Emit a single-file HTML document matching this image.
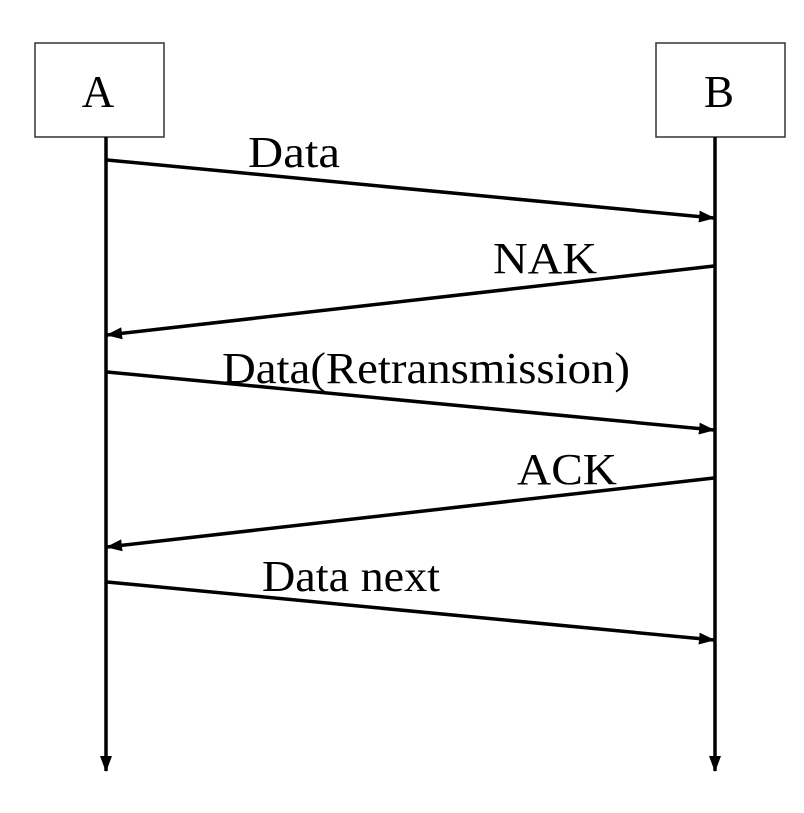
<!DOCTYPE html>
<html><head><style>html,body{margin:0;padding:0;background:#fff}</style></head>
<body>
<svg width="804" height="808" xmlns="http://www.w3.org/2000/svg" font-family="Liberation Serif, serif" font-size="44">
<defs>
<marker id="ah" markerWidth="16" markerHeight="12" refX="15" refY="6" orient="auto" markerUnits="userSpaceOnUse">
<path d="M0,0 L16,6 L0,12 Z" fill="#000"/>
</marker>
</defs>
<rect x="35" y="43" width="129" height="94" fill="#fff" stroke="#333" stroke-width="1.5"/>
<rect x="656" y="43" width="129" height="94" fill="#fff" stroke="#333" stroke-width="1.5"/>
<text x="98" y="107" text-anchor="middle" font-size="45">A</text>
<text x="719" y="107" text-anchor="middle" font-size="45">B</text>
<line x1="106" y1="137" x2="106" y2="771" stroke="#000" stroke-width="3.5" marker-end="url(#ah)"/>
<line x1="715" y1="137" x2="715" y2="771" stroke="#000" stroke-width="3.5" marker-end="url(#ah)"/>
<g stroke="#000" stroke-width="3.5" marker-end="url(#ah)">
<line x1="107" y1="160" x2="714" y2="218"/>
<line x1="714" y1="266" x2="107" y2="335"/>
<line x1="107" y1="372" x2="714" y2="430"/>
<line x1="714" y1="478" x2="107" y2="547"/>
<line x1="107" y1="582" x2="714" y2="640"/>
</g>
<text x="248" y="167" textLength="92" lengthAdjust="spacingAndGlyphs">Data</text>
<text x="493" y="273" textLength="104" lengthAdjust="spacingAndGlyphs">NAK</text>
<text x="222" y="383" textLength="408" lengthAdjust="spacingAndGlyphs">Data(Retransmission)</text>
<text x="517" y="484" textLength="100" lengthAdjust="spacingAndGlyphs">ACK</text>
<text x="262" y="591" textLength="178" lengthAdjust="spacingAndGlyphs">Data next</text>
</svg>
</body></html>
